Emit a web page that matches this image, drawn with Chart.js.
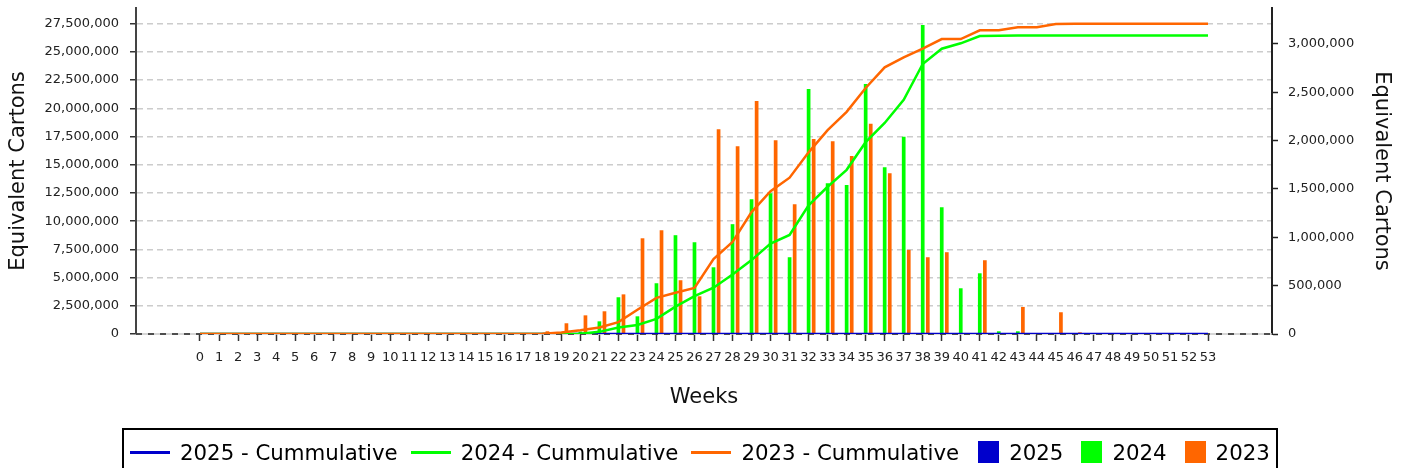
<!DOCTYPE html>
<html><head><meta charset="utf-8">
<script src="https://cdn.jsdelivr.net/npm/chart.js@4.4.1/dist/chart.umd.min.js"></script>
<style>
html,body{margin:0;padding:0;background:#fff;}
#wrap{position:relative;width:1404px;height:468px;overflow:hidden;font-family:'DejaVu Sans',sans-serif;}
#c{position:absolute;left:0;top:0;}
#legend{position:absolute;left:122px;top:428px;width:1156px;height:48px;border:2px solid #000;box-sizing:border-box;display:flex;align-items:center;font-size:21.3px;color:#000;white-space:nowrap;}
.ln{display:inline-block;width:40px;height:3px;}
.sq{display:inline-block;width:21px;height:22px;}
.tx{margin-left:10px;}
</style></head>
<body><div id="wrap"><canvas id="c" width="1404" height="468"></canvas>
<div id="legend">
<span class="ln" style="background:#0000cc;margin-left:6px"></span><span class="tx">2025 - Cummulative</span>
<span class="ln" style="background:#00ff00;margin-left:13px"></span><span class="tx">2024 - Cummulative</span>
<span class="ln" style="background:#ff6600;margin-left:13px"></span><span class="tx">2023 - Cummulative</span>
<span class="sq" style="background:#0000cc;margin-left:19px"></span><span class="tx">2025</span>
<span class="sq" style="background:#00ff00;margin-left:18px"></span><span class="tx">2024</span>
<span class="sq" style="background:#ff6600;margin-left:18px"></span><span class="tx">2023</span>
</div></div>
<script>
const weeks = [0,1,2,3,4,5,6,7,8,9,10,11,12,13,14,15,16,17,18,19,20,21,22,23,24,25,26,27,28,29,30,31,32,33,34,35,36,37,38,39,40,41,42,43,44,45,46,47,48,49,50,51,52,53];

// weekly values (right axis)
const weekly2025 = [0,0,0,0,0,0,0,0,0,0,0,0,0,0,0,0,0,0,0,0,0,0,0,0,0,0,0,0,0,0,0,0,0,0,0,0,0,0,0,0,0,0,0,0,0,0,0,0,0,0,0,0,0,0];
const weekly2024 = [0,0,0,0,0,0,0,0,0,0,0,0,0,0,0,0,0,0,0,0,25000,131000,380000,183000,525000,1022000,949000,690000,1136000,1394000,1457000,794000,2533000,1560000,1540000,2585000,1726000,2040000,3196000,1311000,473000,628000,28000,28000,0,0,0,0,0,0,0,0,0,0];
const weekly2023 = [0,0,0,0,0,0,0,0,0,0,0,0,0,0,0,0,0,0,28000,111000,193000,235000,410000,990000,1073000,556000,390000,2119000,1943000,2409000,2005000,1343000,2016000,1995000,1840000,2174000,1663000,870000,794000,846000,0,763000,0,280000,0,225000,17000,0,0,0,0,0,0,0];

// cumulative values (left axis)
const cum2025 = [0,0,0,0,0,0,0,0,0,0,0,0,0,0,0,0,0,0,0,0,0,0,0,0,0,0,0,0,0,0,0,0,0,0,0,0,0,0,0,0,0,0,0,0,0,0,0,0,0,0,0,0,0,0];
const cum2024 = [0,0,0,0,0,0,0,0,0,0,0,0,0,0,0,0,0,0,0,0,25000,190000,580000,800000,1340000,2420000,3350000,4100000,5270000,6550000,8020000,8780000,11400000,13050000,14550000,17000000,18700000,20750000,23930000,25280000,25760000,26410000,26440000,26460000,26460000,26460000,26460000,26460000,26460000,26460000,26460000,26460000,26460000,26460000];
const cum2023 = [0,0,0,0,0,0,0,0,0,0,0,0,0,0,0,0,0,0,30000,140000,340000,580000,1050000,2150000,3200000,3650000,4080000,6650000,8150000,10800000,12650000,13850000,16100000,18070000,19690000,21800000,23630000,24520000,25280000,26140000,26140000,26910000,26910000,27180000,27180000,27470000,27490000,27490000,27490000,27490000,27490000,27490000,27490000,27490000];

// tick labels
const leftTicks = [0,2500000,5000000,7500000,10000000,12500000,15000000,17500000,20000000,22500000,25000000,27500000];
const rightTicks = [0,500000,1000000,1500000,2000000,2500000,3000000];

Chart.defaults.font.family = "'DejaVu Sans', sans-serif";
Chart.defaults.color = '#222';

const zeroLine = {
  id: 'zeroLine',
  beforeDatasetsDraw(chart) {
    const {ctx, chartArea: a, scales} = chart;
    const y = scales.yL.getPixelForValue(0);
    ctx.save();
    ctx.lineWidth = 1.5;
    ctx.strokeStyle = '#c8c8c8';
    ctx.beginPath(); ctx.moveTo(a.left, y); ctx.lineTo(a.right, y); ctx.stroke();
    ctx.setLineDash([6, 6]);
    ctx.strokeStyle = '#222';
    ctx.beginPath(); ctx.moveTo(a.left, y); ctx.lineTo(a.right, y); ctx.stroke();
    ctx.restore();
  }
};

const fmt = v => Number(v).toLocaleString('en-US');
const noPad = s => { s.paddingTop = 0; s.paddingBottom = 0; };
const lineDs = (label, data, color) => ({type: 'line', label, data, borderColor: color, backgroundColor: color, borderWidth: 2.5, pointRadius: 0, tension: 0, yAxisID: 'yL', xAxisID: 'x'});
const barDs = (label, data, color) => ({type: 'bar', label, data, backgroundColor: color, borderWidth: 0, categoryPercentage: 0.8, barPercentage: 0.73, yAxisID: 'yR', xAxisID: 'x'});

new Chart(document.getElementById('c'), {
  type: 'bar',
  data: {
    labels: weeks,
    datasets: [
      lineDs('2023 - Cummulative', cum2023, '#ff6600'),
      lineDs('2024 - Cummulative', cum2024, '#00ff00'),
      lineDs('2025 - Cummulative', cum2025, '#0000cc'),
      barDs('2025', weekly2025, '#0000cc'),
      barDs('2024', weekly2024, '#00ff00'),
      barDs('2023', weekly2023, '#ff6600')
    ]
  },
  options: {
    responsive: false,
    animation: false,
    devicePixelRatio: 1,
    layout: {padding: {top: 8, left: 0, right: 0, bottom: 54}},
    plugins: {legend: {display: false}, tooltip: {enabled: false}},
    scales: {
      x: {
        type: 'linear', min: -3.365, max: 56.365, offset: false,
        afterBuildTicks: s => { s.ticks = weeks.map(v => ({value: v})); },
        afterFit: s => { s.height = 80; s.paddingLeft = 0; s.paddingRight = 0; },
        grid: {display: true, drawOnChartArea: false, offset: false, tickLength: 7, tickColor: '#333', tickWidth: 1.5},
        border: {display: false},
        ticks: {autoSkip: false, maxRotation: 0, minRotation: 0, padding: 9, color: '#222', font: {size: 13}, callback: v => String(v)},
        title: {display: true, text: 'Weeks', font: {size: 21}, color: '#111', padding: {top: 0, bottom: 4}}
      },
      yL: {
        position: 'left', min: 0, max: 28890000,
        afterBuildTicks: s => { s.ticks = leftTicks.map(v => ({value: v})); },
        afterFit: s => { s.width = 136; noPad(s); },
        ticks: {autoSkip: false, padding: 11, color: '#222', font: {size: 13}, callback: v => fmt(v)},
        grid: {color: c => (c.tick && c.tick.value === 0) ? 'rgba(0,0,0,0)' : '#cccccc', lineWidth: 1.5, tickLength: 6, tickColor: '#333', tickWidth: 1.5},
        border: {display: true, color: '#444', width: 2, dash: [6, 4]},
        title: {display: true, text: 'Equivalent Cartons', font: {size: 21}, color: '#111', padding: {top: 6, bottom: 0}}
      },
      yR: {
        position: 'right', min: 0, max: 3372000,
        afterBuildTicks: s => { s.ticks = rightTicks.map(v => ({value: v})); },
        afterFit: s => { s.width = 132; noPad(s); },
        ticks: {autoSkip: false, padding: 10, color: '#222', font: {size: 13}, callback: v => fmt(v)},
        grid: {drawOnChartArea: false, tickLength: 6, tickColor: '#222', tickWidth: 1.5},
        border: {display: true, color: '#222', width: 2},
        title: {display: true, text: 'Equivalent Cartons', font: {size: 21}, color: '#111', padding: {top: 10, bottom: 0}}
      }
    }
  },
  plugins: [zeroLine]
});
</script>
</body></html>
